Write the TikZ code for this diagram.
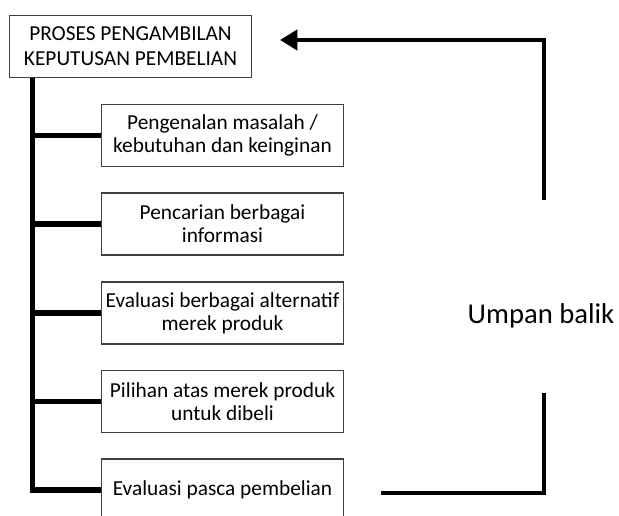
\documentclass[tikz,border=0pt]{standalone}
\usepackage{fontspec}
\setmainfont{Carlito}
\usetikzlibrary{arrows.meta,calc,positioning}
\tikzset{
  step_box/.style = {draw=black!75, line width=0.8pt, fill=white, align=center,
  minimum width=182pt, minimum height=46.5pt, inner sep=1pt, font=\fontsize{16}{17}\selectfont},
  top_box/.style = {step_box, font=\fontsize{16}{18.7}\selectfont},
  trunk/.style = {line width=3.8pt},
  fb_line/.style = {line width=3.6pt}
}

\begin{document}
\begin{tikzpicture}[x=0.75pt,y=-0.75pt]
  \useasboundingbox (0,0) rectangle (619,516);
  \node [top_box] (top) at (130.5,46.5) {PROSES PENGAMBILAN\\KEPUTUSAN PEMBELIAN};
  \node [step_box] (s1) at (222.5,135.5) {Pengenalan masalah /\\kebutuhan dan keinginan};
  \node [step_box] (s2) at (222.5,224) {Pencarian berbagai\\informasi};
  \node [step_box] (s3) at (222.5,313) {Evaluasi berbagai alternatif\\merek produk};
  \node [step_box] (s4) at (222.5,401.5) {Pilihan atas merek produk\\untuk dibeli};
  \node [step_box] (s5) at (222.5,490) {Evaluasi pasca pembelian};
  \node [font=\fontsize{21.5}{24}\selectfont] (ub) at (541,316) {Umpan balik};
  % garis utama
  \coordinate (trunk_top) at ($(top.south west)+(24,0)$);
  \draw [trunk] (trunk_top) |- (s5.west);
  \foreach \s in {s1,s2,s3,s4}
    \draw [trunk] (\s.west -| trunk_top) -- (\s.west);
  % umpan balik
  \coordinate (fb_a) at (381,493);
  \coordinate (fb_b) at (544,393);
  \coordinate (fb_c) at (544,200);
  \coordinate (fb_tip) at (280,40);
  \draw [fb_line] (fb_a) -| (fb_b);
  \draw [fb_line, -{Triangle[length=13pt,width=15pt]}] (fb_c) |- (fb_tip);
\end{tikzpicture}
\end{document}
